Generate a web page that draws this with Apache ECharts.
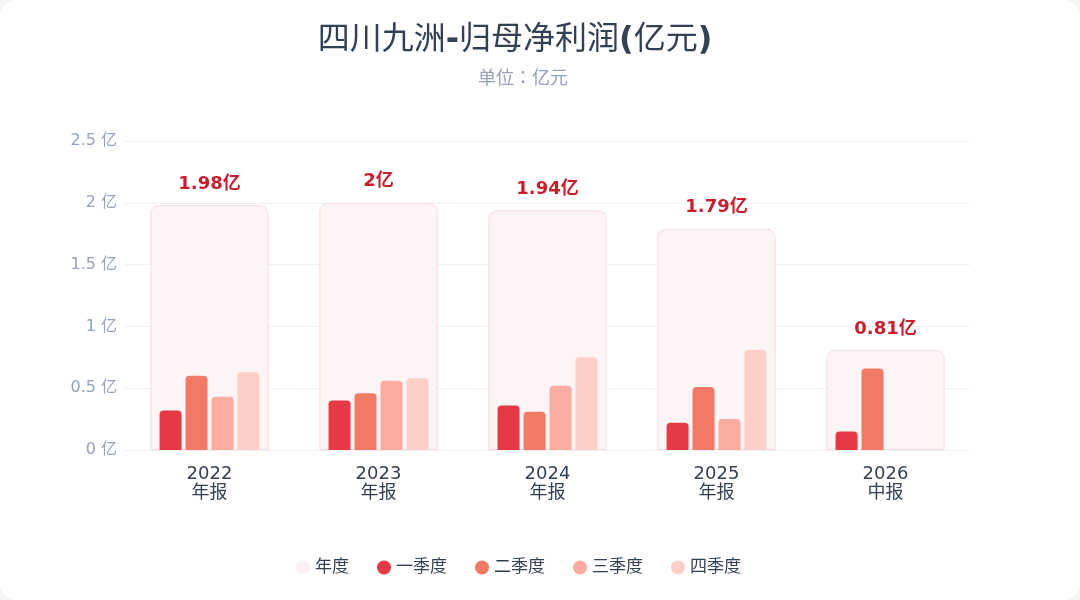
<!DOCTYPE html>
<html>
<head>
<meta charset="utf-8">
<script src="https://cdn.jsdelivr.net/npm/echarts@6/dist/echarts.min.js"></script>
<style>
    html, body { margin: 0; padding: 0; background: #f3f4f6; }
    .card { width: 1080px; height: 600px; background: #fff; border-radius: 16px; overflow: hidden; }
    .chart { width: 1080px; height: 600px; }
</style>
</head>
<body>
<div class="card"><div class="chart"></div></div>
<script>
var periods = ['2022\n年报', '2023\n年报', '2024\n年报', '2025\n年报', '2026\n中报'];
var annual = [1.98, 2.00, 1.94, 1.79, 0.81];
var q1 = [0.32, 0.40, 0.36, 0.22, 0.15];
var q2 = [0.60, 0.46, 0.31, 0.51, 0.66];
var q3 = [0.43, 0.56, 0.52, 0.25, null];
var q4 = [0.63, 0.58, 0.75, 0.81, null];
var yTicks = { min: 0, max: 2.5, interval: 0.5 };

(function () {
    var chartDom = document.querySelector(".chart");
    var myChart = echarts.init(chartDom);
    var option;
    var font = '"DejaVu Sans", "Noto Sans CJK SC", sans-serif';
    var cjk = '"Noto Sans CJK JP", "DejaVu Sans", sans-serif';

    function quarter(name, data, color) {
        return {
            name: name,
            type: 'bar',
            xAxisIndex: 0,
            barWidth: 22,
            barGap: '18%',
            z: 3,
            itemStyle: { color: color, borderRadius: [4, 4, 0, 0] },
            data: data
        };
    }

    option = {
        textStyle: { fontFamily: font },
        title: [{
            // 中文正常粗细，符号加粗
            text: '{c|四川九洲}{b|-}{c|归母净利润}{b|(}{c|亿元}{b|)}',
            left: 510,
            textAlign: 'center',
            top: 20,
            textStyle: {
                fontSize: 32,
                color: '#334155',
                rich: {
                    c: { fontSize: 32, color: '#334155', fontFamily: font, fontWeight: 'normal' },
                    b: { fontSize: 32, color: '#334155', fontFamily: font, fontWeight: 'bold' }
                }
            }
        }, {
            text: '单位：亿元',
            left: 518,
            textAlign: 'center',
            top: 63,
            textStyle: { fontSize: 18, fontWeight: 'normal', color: '#94a3b8', fontFamily: cjk }
        }],
        legend: {
            left: 291,
            top: 554,
            icon: 'circle',
            itemWidth: 14,
            itemHeight: 14,
            itemGap: 28,
            textStyle: { fontSize: 17, color: '#334155', fontFamily: font },
            data: [
                { name: '年度', itemStyle: { borderWidth: 0, color: '#fbf0f2' } },
                '一季度', '二季度', '三季度', '四季度'
            ]
        },
        grid: { left: 125, right: 110, top: 141, bottom: 150 },
        xAxis: [{
            type: 'category',
            data: periods,
            axisLine: { show: false },
            axisTick: { show: false },
            axisLabel: { fontSize: 18, color: '#334155', lineHeight: 19, margin: 15, fontFamily: font }
        }, {
            type: 'category',
            data: periods,
            show: false
        }],
        yAxis: {
            type: 'value',
            min: yTicks.min,
            max: yTicks.max,
            interval: yTicks.interval,
            axisLine: { show: false },
            axisTick: { show: false },
            axisLabel: {
                fontSize: 16,
                color: '#94a3b8',
                margin: 8,
                fontFamily: font,
                formatter: function (v) { return v + ' 亿'; }
            },
            splitLine: { lineStyle: { color: '#eef0f4' } }
        },
        series: [{
            name: '年度',
            type: 'bar',
            xAxisIndex: 1,
            barWidth: '70%',
            z: 1,
            itemStyle: {
                color: '#fcf4f5',
                borderColor: '#f6dbe0',
                borderWidth: 1,
                borderRadius: [8, 8, 0, 0]
            },
            label: {
                show: true,
                position: 'top',
                distance: 12,
                fontSize: 18,
                fontWeight: 'bold',
                color: '#c81e2e',
                fontFamily: font,
                formatter: function (p) { return p.value + '亿'; }
            },
            data: annual
        },
            quarter('一季度', q1, '#e63946'),
            quarter('二季度', q2, '#f17a67'),
            quarter('三季度', q3, '#fdaca0'),
            quarter('四季度', q4, '#fecfc8')
        ]
    };

    myChart.setOption(option);
    window.addEventListener("resize", function () {
        myChart.resize();
    });
})();
</script>
</body>
</html>
